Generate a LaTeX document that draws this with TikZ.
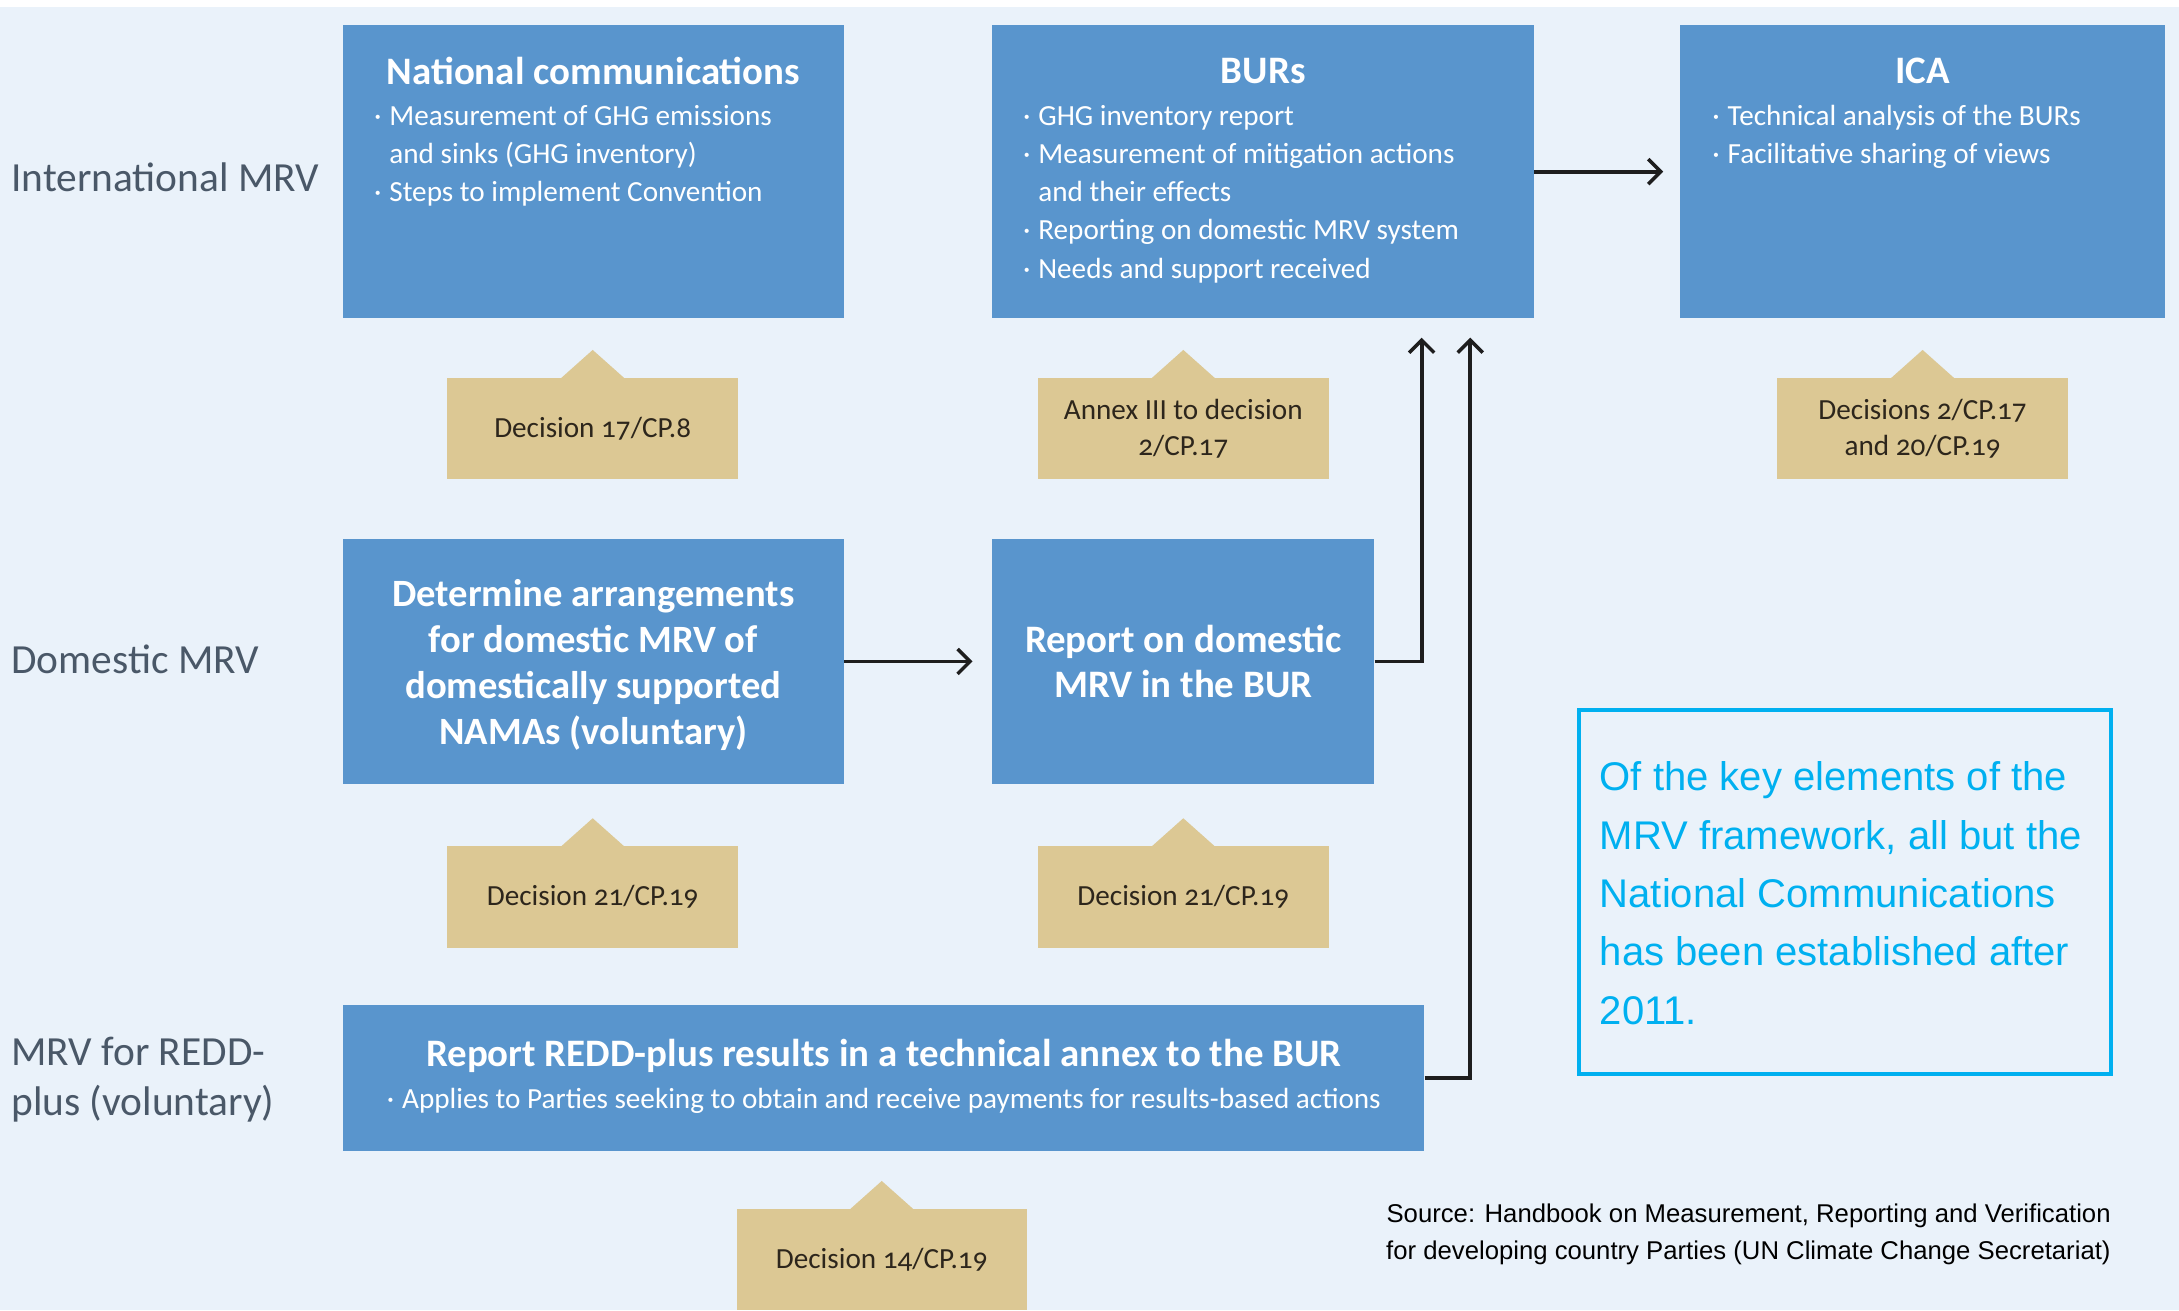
\documentclass[tikz,border=0pt]{standalone}
\usepackage{fontspec}
\setmainfont{Carlito}
\newfontfamily\notefont{Liberation Sans}
\newfontfamily\decfont{Carlito}[Numbers=OldStyle]
\usetikzlibrary{arrows.meta, positioning}

\definecolor{bgblue}{RGB}{234,242,250}
\definecolor{boxblue}{RGB}{89,149,205}
\definecolor{deciTan}{RGB}{220,200,148}
\definecolor{decText}{RGB}{45,38,28}
\definecolor{labelgray}{RGB}{74,88,104}
\definecolor{noteCyan}{RGB}{0,176,240}
\definecolor{arrowblack}{RGB}{30,30,30}

\newcommand{\bul}{\makebox[11pt][l]{·}}
\newcommand{\cont}{\hspace*{11pt}}

\begin{document}
\begin{tikzpicture}[x=1pt, y=-1pt,
  box/.style={rectangle, fill=boxblue, inner sep=0pt, text=white, align=center},
  boxtitle/.style={text=white, inner sep=0pt, font=\bfseries\fontsize{28}{30}\selectfont},
  bullets/.style={text=white, align=left, inner sep=0pt, anchor=north west, font=\fontsize{21}{27.5}\selectfont},
  decision/.style={rectangle, fill=deciTan, minimum width=209pt, minimum height=73pt, inner sep=0pt, align=center, text=decText, font=\decfont\fontsize{21}{26}\selectfont},
  rowlabel/.style={anchor=north west, text=labelgray, align=left, inner sep=0pt, font=\fontsize{29.8}{36}\selectfont},
  arrow/.style={-{Straight Barb[length=9pt, width=18pt, line width=2.5pt]}, line width=2.8pt, draw=arrowblack},
]

% Background
\fill[bgblue] (0,0) rectangle (1568,943);
\fill[white] (0,0) rectangle (1568,5);
\useasboundingbox (0,0) rectangle (1568,943);

% Row labels
\node[rowlabel] (intl) at (8,117) {International MRV};
\node[rowlabel] (dom) at (8,464) {Domestic MRV};
\node[rowlabel] (redd) at (8,746) {MRV for REDD-\\plus (voluntary)};

% Boxes
\node[box, minimum width=360pt, minimum height=211pt] (nc) at (427,123.5) {};
\node[boxtitle] (nctitle) at (427,51) {National communications};
\node[bullets] (nclist) at (269,75.5) {\bul Measurement of GHG emissions\\
  \cont and sinks (GHG inventory)\\
  \bul Steps to implement Convention};

\node[box, minimum width=390pt, minimum height=211pt] (burs) at (909,123.5) {};
\node[boxtitle] (burstitle) at (909,51) {BURs};
\node[bullets] (burslist) at (736,75.5) {\bul GHG inventory report\\
  \bul Measurement of mitigation actions\\
  \cont and their effects\\
  \bul Reporting on domestic MRV system\\
  \bul Needs and support received};

\node[box, minimum width=349pt, minimum height=211pt] (ica) at (1383.5,123.5) {};
\node[boxtitle] (icatitle) at (1383.5,51) {ICA};
\node[bullets] (icalist) at (1232,75.5) {\bul Technical analysis of the BURs\\
  \bul Facilitative sharing of views};

\node[box, minimum width=360pt, minimum height=176pt] (arr) at (427,476) {};
\node[boxtitle, align=center, font=\bfseries\fontsize{27.8}{33}\selectfont] (arrtext) at (427,478.5)
  {Determine arrangements\\for domestic MRV of\\domestically supported\\NAMAs (voluntary)};
\node[box, minimum width=275pt, minimum height=176pt, font=\bfseries\fontsize{28}{33}\selectfont] (rep) at (851.5,476)
  {Report on domestic\\MRV in the BUR};

\node[box, minimum width=778pt, minimum height=105pt] (reddbox) at (636,775.5) {};
\node[boxtitle] (reddtitle) at (636,759.5) {Report REDD-plus results in a technical annex to the BUR};
\node[bullets, anchor=center] (reddlist) at (636,792) {\bul Applies to Parties seeking to obtain and receive payments for results-based actions};

% Decisions
\node[decision] (d17) at (426.5,308.5) {Decision 17/CP.8};
\node[decision] (annex) at (851.5,308.5) {Annex III to decision\\2/CP.17};
\node[decision] (dica) at (1383.5,308.5) {Decisions 2/CP.17\\and 20/CP.19};
\node[decision] (d21a) at (426.5,645.5) {Decision 21/CP.19};
\node[decision] (d21b) at (851.5,645.5) {Decision 21/CP.19};
\node[decision] (d14) at (634.5,906.5) {Decision 14/CP.19};
\foreach \d in {d17, annex, dica, d21a, d21b, d14}
  \fill[deciTan] (\d.north) ++(-23,0.5) -- ++(23,-20.5) -- ++(23,20.5) -- cycle;

% Arrows
\coordinate (up1) at (1023,243);
\coordinate (up2) at (1058,243);
\draw[arrow, shorten >=12pt] (burs.east) -- (ica.west);
\draw[arrow, shorten >=14pt] (arr.east) -- (rep.west);
\draw[arrow] (rep.east) -| (up1);
\draw[arrow] (reddbox.east) -| (up2);

% Note and source
\node[draw=noteCyan, line width=2.8pt, minimum width=383pt, minimum height=262pt, inner sep=0pt] (note) at (1327.5,642) {};
\node[anchor=north west, inner sep=0pt, text=noteCyan, align=left, font=\notefont\fontsize{28.8}{42}\selectfont] (notetext) at (1151,548)
  {Of the key elements of the\\MRV framework, all but the\\National Communications\\has been established after\\2011.};
\node[anchor=north east, inner sep=0pt, align=right, font=\notefont\fontsize{18.5}{27}\selectfont] (source) at (1519,866)
  {Source: Handbook on Measurement, Reporting and Verification\\for developing country Parties (UN Climate Change Secretariat)};

\end{tikzpicture}
\end{document}
